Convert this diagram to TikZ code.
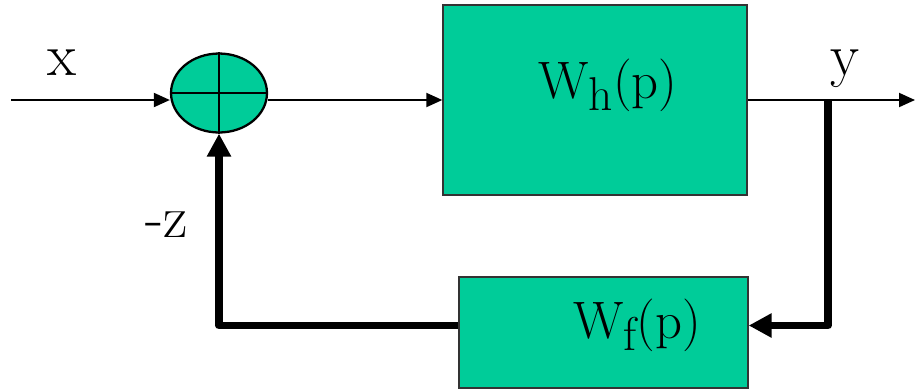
\documentclass[tikz,border=0pt]{standalone}
\usetikzlibrary{shapes.geometric, arrows.meta, positioning, calc}
\definecolor{blockgreen}{RGB}{0,204,153}
\tikzstyle{block} = [rectangle, draw=black!80, fill=blockgreen, line width=0.8pt]
\tikzstyle{summer} = [ellipse, draw=black, fill=blockgreen, line width=1.3pt, minimum width=1.92cm, minimum height=1.58cm]
\tikzstyle{signal} = [line width=1.1pt, -{Triangle[length=0.32cm, width=0.28cm]}]
\tikzstyle{feedback} = [line width=4.3pt, line join=round, -{Triangle[length=0.46cm, width=0.46cm]}]
\tikzstyle{varlabel} = [font=\fontsize{34}{40}\selectfont, anchor=base, inner sep=0pt]
\tikzstyle{tflabel} = [font=\fontsize{30}{36}\selectfont, anchor=base, inner sep=0pt]
\newcommand{\tfsub}[1]{\raisebox{-0.23em}{\fontsize{27}{30}\selectfont #1}}

\begin{document}
\begin{tikzpicture}[x=0.02cm, y=-0.02cm]
\useasboundingbox (0,0) rectangle (915,390);

% Blocks
\node (sum) [summer] at (219,93) {};
\node (wh) [block, minimum width=6.08cm, minimum height=3.8cm] at (595,100) {};
\node (wf) [block, minimum width=5.78cm, minimum height=2.22cm] at (603.5,332.5) {};

% Block texts
\node (whtext) [tflabel] at (608,98) {W\tfsub{h}(p)};
\node (wftext) [tflabel] at (637,338) {W\tfsub{f}(p)};

% Signal names
\node (xlab) [varlabel] at (62,75) {x};
\node (ylab) [varlabel] at (845,75) {y};
\node (zlab) [varlabel] at (167,237) {-z};

% Cross in the summing point
\draw [line width=1.3pt] (sum.north) -- (sum.south);
\draw [line width=1.3pt] (sum.west) -- (sum.east);

% Forward path
\coordinate (in) at (11,100);
\coordinate (out) at (915,100);
\coordinate (branch) at (828,100);
\draw [signal] (in) -- (in -| sum.west);
\draw [signal] (wh.west -| sum.east) -- (wh.west);
\draw [signal] (wh.east) -- (out);

% Feedback path
\draw [feedback] (branch) |- ([yshift=0.14cm]wf.east);
\draw [feedback] ([yshift=0.14cm]wf.west) -| (sum.south);

\end{tikzpicture}
\end{document}
